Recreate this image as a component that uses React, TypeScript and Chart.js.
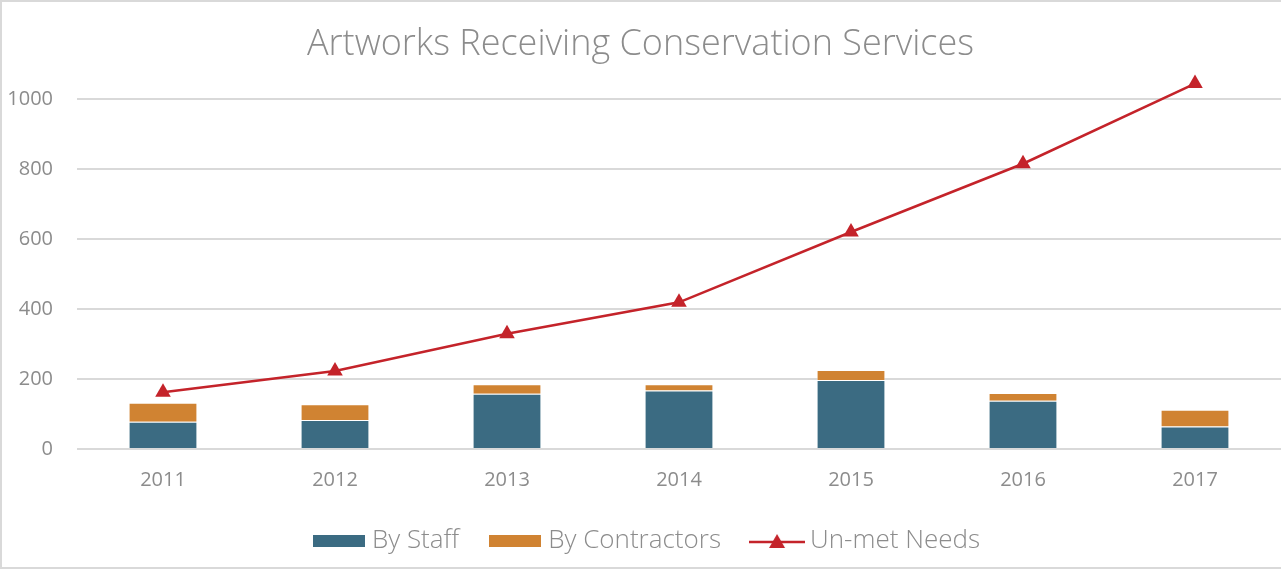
import React, { useEffect, useRef } from "react";
import { Chart, registerables } from "chart.js";

Chart.register(...registerables);

const years = ["2011", "2012", "2013", "2014", "2015", "2016", "2017"];
const byStaff = [78, 83, 158, 167, 197, 138, 64];
const byContractors = [54, 45, 27, 18, 29, 22, 48];
const unmetNeeds = [162, 223, 329, 419, 620, 815, 1044];
const yTicks = [0, 200, 400, 600, 800, 1000];

const STAFF = "#3b6b82";
const CONTR = "#d08332";
const LINE = "#c4232a";
const GRAY = "#8c8c8c";
const GRID = "#d9d9d9";
const FONT = "'Open Sans', sans-serif";

function makeBox(color: string) {
  const c = document.createElement("canvas");
  c.width = 52;
  c.height = 12;
  const ctx = c.getContext("2d")!;
  ctx.fillStyle = color;
  ctx.fillRect(0, 0, 52, 12);
  return c;
}

function makeLineMarker() {
  const c = document.createElement("canvas");
  c.width = 56;
  c.height = 18;
  const ctx = c.getContext("2d")!;
  ctx.strokeStyle = LINE;
  ctx.lineWidth = 2.5;
  ctx.beginPath();
  ctx.moveTo(0, 10);
  ctx.lineTo(56, 10);
  ctx.stroke();
  ctx.fillStyle = LINE;
  ctx.beginPath();
  ctx.moveTo(28, 2);
  ctx.lineTo(36, 16);
  ctx.lineTo(20, 16);
  ctx.closePath();
  ctx.fill();
  return c;
}

const borderPlugin = {
  id: "outerBorder",
  afterLayout(chart: any) {
    if (chart.legend) {
      chart.legend.left += 18;
    }
  },
  beforeDraw(chart: any) {
    const ctx = chart.ctx;
    ctx.save();
    ctx.fillStyle = "#ffffff";
    ctx.fillRect(0, 0, chart.width, chart.height);
    ctx.strokeStyle = GRID;
    ctx.lineWidth = 2;
    ctx.strokeRect(1, 1, chart.width + 4, chart.height - 2);
    ctx.restore();
  },
};

export default function App() {
  const ref = useRef<HTMLCanvasElement | null>(null);

  useEffect(() => {
    if (!ref.current) return;
    const icons = [makeBox(STAFF), makeBox(CONTR), makeLineMarker()];
    const chart = new Chart(ref.current, {
      type: "bar",
      data: {
        labels: years,
        datasets: [
          {
            type: "bar",
            label: "By Staff",
            data: byStaff,
            backgroundColor: STAFF,
            borderColor: "rgba(255,255,255,0.5)",
            borderWidth: 1,
            barPercentage: 0.4,
            categoryPercentage: 1,
            stack: "bars",
            order: 1,
          },
          {
            type: "bar",
            label: "By Contractors",
            data: byContractors,
            backgroundColor: CONTR,
            borderColor: "rgba(255,255,255,0.5)",
            borderWidth: 1,
            barPercentage: 0.4,
            categoryPercentage: 1,
            stack: "bars",
            order: 1,
          },
          {
            type: "line",
            label: "Un-met Needs",
            data: unmetNeeds,
            borderColor: LINE,
            backgroundColor: LINE,
            borderWidth: 2.5,
            pointStyle: "triangle",
            pointRadius: 9,
            pointBorderWidth: 0,
            pointBackgroundColor: LINE,
            stack: "line",
            order: 0,
            tension: 0,
          } as any,
        ],
      },
      options: {
        animation: false,
        responsive: false,
        maintainAspectRatio: false,
        layout: { autoPadding: false, padding: { left: 0, right: 0, top: 0, bottom: 5 } },
        scales: {
          x: {
            stacked: true,
            grid: { display: false, drawTicks: false },
            border: { display: false },
            ticks: {
              color: GRAY,
              font: { family: FONT, size: 20 },
              padding: 19,
            },
            afterFit(scale: any) {
              scale.height = 43;
              scale.paddingLeft = 0;
              scale.paddingRight = 0;
            },
          },
          y: {
            stacked: true,
            min: 0,
            max: 1100,
            border: { display: false },
            grid: { color: GRID, lineWidth: 2, drawTicks: false },
            ticks: {
              color: GRAY,
              font: { family: FONT, size: 20 },
              padding: 24,
              callback: (v: any) => String(v),
            },
            afterBuildTicks(axis: any) {
              axis.ticks = yTicks.map((v) => ({ value: v }));
            },
            afterFit(scale: any) {
              scale.width = 77;
            },
          },
        },
        plugins: {
          tooltip: { enabled: false },
          title: {
            display: true,
            text: "Artworks Receiving Conservation Services",
            color: GRAY,
            font: { family: FONT, size: 36, weight: "300" as any, lineHeight: 1 },
            padding: { top: 27, bottom: 1 },
          },
          legend: {
            display: true,
            position: "bottom",
            labels: {
              usePointStyle: true,
              pointStyleWidth: 40,
              boxHeight: 12,
              color: GRAY,
              padding: 36,
              font: { family: FONT, size: 26, weight: "300" as any },
              sort: (a: any, b: any) => a.datasetIndex - b.datasetIndex,
              generateLabels(ch: any) {
                const items = Chart.defaults.plugins.legend.labels.generateLabels(ch);
                return items.map((it: any) => ({ ...it, pointStyle: icons[it.datasetIndex] }));
              },
            },
          },
        },
      },
      plugins: [borderPlugin],
    });
    return () => chart.destroy();
  }, []);

  return (
    <div style={{ position: "fixed", left: 0, top: 0, width: 1281, height: 569, background: "#fff" }}>
      <canvas ref={ref} width={1281} height={569} style={{ display: "block", width: 1281, height: 569 }} />
    </div>
  );
}
